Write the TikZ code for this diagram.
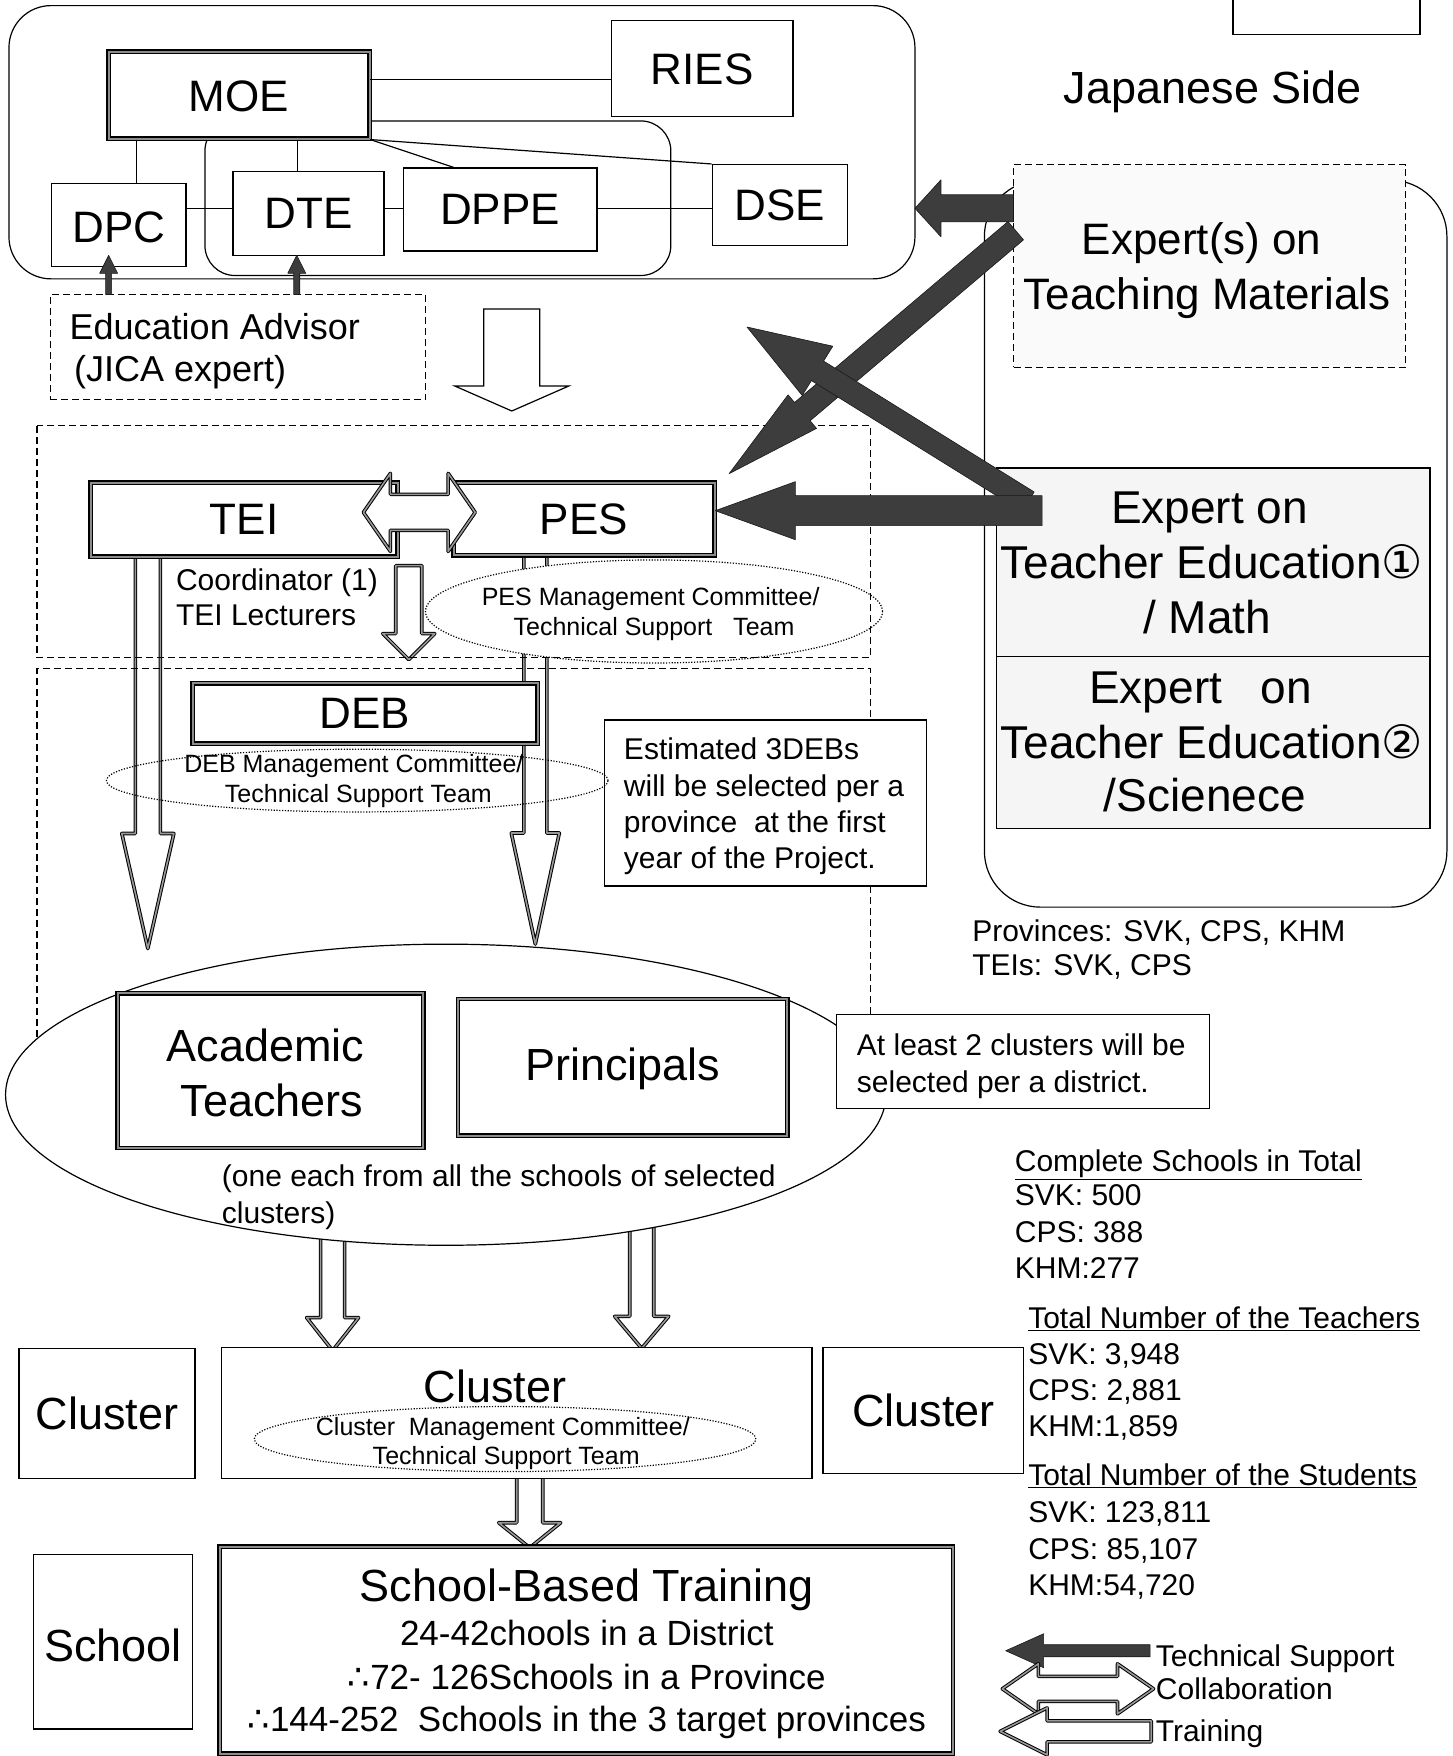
\documentclass[tikz,border=0pt]{standalone}
\usepackage{fontspec}
\setmainfont{Liberation Sans}
\newfontfamily\dvfont{DejaVu Sans}
\usetikzlibrary{calc,fit,shapes.geometric}

% block arrow: style, tail, tip, shaft half width, head length, head half width
\newcommand\blkarrow[6]{%
  \coordinate (bab) at ($(#3)!#5!(#2)$);
  \path[#1] ($(#2)!#4!90:(#3)$) -- ($(bab)!#4!90:(#3)$) -- ($(bab)!#6!90:(#3)$) -- (#3)
     -- ($(bab)!#6!-90:(#3)$) -- ($(bab)!#4!-90:(#3)$) -- ($(#2)!#4!-90:(#3)$) -- cycle;
}
% double headed block arrow
\newcommand\dblkarrow[6]{%
  \coordinate (dbA) at ($(#2)!#5!(#3)$);
  \coordinate (dbB) at ($(#3)!#5!(#2)$);
  \path[#1] (#2) -- ($(dbA)!#6!90:(#3)$) -- ($(dbA)!#4!90:(#3)$) -- ($(dbB)!#4!-90:(#2)$)
     -- ($(dbB)!#6!-90:(#2)$) -- (#3) -- ($(dbB)!#6!90:(#2)$) -- ($(dbB)!#4!90:(#2)$)
     -- ($(dbA)!#4!-90:(#3)$) -- ($(dbA)!#6!-90:(#3)$) -- cycle;
}

\tikzset{
  fsz/.style={font=\fontsize{#1}{#1}\selectfont},
  cont/.style={draw=black, line width=1.2pt},
  box/.style={draw=black, line width=1.3pt, fill=white, inner sep=0pt},
  thickbox/.style={draw=black, line width=1.4pt, double=black!45, double distance=2pt, fill=white, inner sep=0pt},
  dashbox/.style={draw=black, line width=1.2pt, dash pattern=on 7pt off 4pt, inner sep=0pt},
  dashline/.style={draw=black, line width=1.2pt, dash pattern=on 7pt off 4pt},
  hollow/.style={draw=black, line width=1pt, double=black!40, double distance=1.6pt, fill=white, line join=round},
  thinhollow/.style={draw=black, line width=1.2pt, fill=white},
  dark/.style={fill=black!76, draw=black!90, line width=0.6pt, line join=round},
  dotell/.style={ellipse, draw=black, line width=1.2pt, dash pattern=on 1.2pt off 1.6pt, inner sep=0pt},
  conn/.style={draw=black, line width=1.2pt},
  lbl/.style={inner sep=0pt, anchor=mid west},
  clbl/.style={inner sep=0pt, anchor=mid},
  boxtxt/.style={inner sep=0pt, anchor=center},
}

\begin{document}
\begin{tikzpicture}[x=1.1195pt,y=-1.1195pt]
\useasboundingbox (0,0) rectangle (1297,1568);
\fill[white] (0,0) rectangle (1297,1568);

% ---------- containers ----------
\draw[cont, rounded corners=42pt] (8,5) rectangle (817,249);
\draw[cont, rounded corners=30pt] (183,108) rectangle (599,246);
\draw[cont, rounded corners=56pt] (879,161) rectangle (1292,810);
\draw[cont] (1101,-10) -- (1101,31) -- (1268,31) -- (1268,-10);

\node[dashbox, fill=black!2, fit={(905,147) (1255,328)}] (exm) {};
\node[box, fill=black!4, fit={(890,418) (1277,586)}] (ex1) {};
\node[box, fill=black!4, fit={(890,586) (1277,740)}] (ex2) {};

% ---------- hollow arrows (training) ----------
\coordinate (dA1) at (457,276); \coordinate (dA2) at (457,367);
\blkarrow{thinhollow}{dA1}{dA2}{28pt}{25pt}{57pt}
\coordinate (tr1a) at (365,505); \coordinate (tr1b) at (365,589);
\blkarrow{hollow}{tr1a}{tr1b}{13pt}{26pt}{26pt}
\coordinate (la1) at (132,490); \coordinate (la2) at (132,847);
\blkarrow{hollow}{la1}{la2}{12.5pt}{115pt}{26pt}
\coordinate (ra1) at (478,490); \coordinate (ra2) at (478,843);
\blkarrow{hollow}{ra1}{ra2}{11.5pt}{111pt}{24pt}
\coordinate (ec1) at (297,1100); \coordinate (ec2) at (297,1206);
\blkarrow{hollow}{ec1}{ec2}{12pt}{33pt}{26pt}
\coordinate (ed1) at (573,1095); \coordinate (ed2) at (573,1204);
\blkarrow{hollow}{ed1}{ed2}{12pt}{32pt}{27pt}
\coordinate (cs1) at (473,1310); \coordinate (cs2) at (473,1382);
\blkarrow{hollow}{cs1}{cs2}{13pt}{25pt}{31pt}

% ---------- PES ellipse ----------
\node[dotell, fill=white, minimum width=456.8pt, minimum height=103pt] (pesell) at (584,546) {};

% ---------- dashed regions ----------
\draw[dashline] (33,380) rectangle (777,587);
\draw[dashline] (33,926) -- (33,597) -- (777,597) -- (777,906);

% ---------- big ellipse ----------
\node[ellipse, draw=black, line width=1.2pt, fill=white, inner sep=0pt, minimum width=880pt, minimum height=301pt] (bigell) at (398,977.5) {};

% ---------- boxes ----------
\node[thickbox, fit={(97,46) (330,124)}] (moe) {};
\node[box, fit={(546,18) (708,104)}] (ries) {};
\node[box, fit={(46,164) (166,238)}] (dpc) {};
\node[box, fit={(208,153) (343,228)}] (dte) {};
\node[box, fit={(360,150) (533,224)}] (dppe) {};
\node[box, fit={(636,147) (757,219)}] (dse) {};
\node[dashbox, fit={(45,263) (380,357)}] (adv) {};

\node[thickbox, fit={(81,431) (355,497)}] (tei) {};
\node[thickbox, fit={(405,431) (638,496)}] (pes) {};
\node[thickbox, fit={(172,610) (480,664)}] (deb) {};
\node[box, fit={(540,643) (827,791)}] (est) {};

\node[thickbox, fit={(105,887) (378,1025)}] (acad) {};
\node[thickbox, fit={(409,892) (703,1014)}] (prin) {};
\node[box, fit={(747,906) (1080,990)}] (atl) {};

\node[box, fit={(17,1204) (174,1320)}] (cl1) {};
\node[box, fit={(198,1203) (725,1320)}] (cl2) {};
\node[box, fit={(735,1203) (914,1316)}] (cl3) {};
\node[box, fit={(30,1388) (172,1544)}] (sch) {};
\node[thickbox, fit={(196,1381) (851,1566)}] (sbt) {};

\node[dotell, minimum width=501.5pt, minimum height=62.7pt] (debell) at (319,697) {};
\node[dotell, minimum width=501.5pt, minimum height=65pt] (clell) at (451,1285) {};

% ---------- box labels ----------
\node[boxtxt, fsz=44] (moet) at ([yshift=-1pt]moe.center) {MOE};
\node[boxtxt, fsz=44] (riest) at ([yshift=-1pt]ries.center) {RIES};
\node[boxtxt, fsz=44] (dpct) at ([yshift=-2pt]dpc.center) {DPC};
\node[boxtxt, fsz=44] (dtet) at (dte.center) {DTE};
\node[boxtxt, fsz=44] (dppet) at (dppe.center) {DPPE};
\node[boxtxt, fsz=44] (dset) at (dse.center) {DSE};
\node[boxtxt, fsz=44] (teit) at (tei.center) {TEI};
\node[boxtxt, fsz=44] (pest) at (pes.center) {PES};
\node[boxtxt, fsz=44] (debt) at (deb.center) {DEB};
\node[boxtxt, fsz=45] (print) at ([yshift=-2pt]prin.center) {Principals};
\node[boxtxt, fsz=45] (cl1t) at (cl1.center) {Cluster};
\node[boxtxt, fsz=45] (cl3t) at (cl3.center) {Cluster};
\node[boxtxt, fsz=45] (scht) at ([yshift=-4pt]sch.center) {School};

% ---------- connectors in the ministry ----------
\draw[conn] (moe.east |- 0,71) -- (ries.west |- 0,71);
\draw[conn] (122,0 |- moe.south) -- (122,0 |- dpc.north);
\draw[conn] (266,0 |- moe.south) -- (266,0 |- dte.north);
\draw[conn] (moe.south east) -- (405,0 |- dppe.north);
\draw[conn] (moe.south east) -- (dse.north west);
\draw[conn] (dpc.east |- 0,186) -- (dte.west |- 0,186);
\draw[conn] (dte.east |- 0,186) -- (dppe.west |- 0,186);
\draw[conn] (dppe.east |- 0,186) -- (dse.west |- 0,186);

% ---------- collaboration arrow ----------
\coordinate (co1) at (324.5,457.5); \coordinate (co2) at (424.3,457.5);
\dblkarrow{hollow}{co1}{co2}{18pt}{27pt}{39pt}

% ---------- technical support arrows ----------
\coordinate (ta1) at (905,186); \coordinate (ta2) at (817,186);
\blkarrow{dark}{ta1}{ta2}{13.5pt}{26pt}{28.5pt}
\coordinate (tb1) at (907,206); \coordinate (tb2) at (651,423);
\blkarrow{dark}{tb1}{tb2}{12pt}{96pt}{22pt}
\coordinate (tc1) at (918,448); \coordinate (tc2) at (667,292);
\blkarrow{dark}{tc1}{tc2}{11.5pt}{83pt}{29pt}
\coordinate (td1) at (930.5,456); \coordinate (td2) at (638.7,456);
\blkarrow{dark}{td1}{td2}{15pt}{80pt}{29pt}
\coordinate (sa1) at (97,263); \coordinate (sa2) at (97,228);
\blkarrow{dark}{sa1}{sa2}{3pt}{18pt}{9pt}
\coordinate (sb1) at (265,263); \coordinate (sb2) at (265,228);
\blkarrow{dark}{sb1}{sb2}{3pt}{18pt}{9pt}

% ---------- texts ----------
\node[clbl, fsz=45] (jside) at (1083,90) {Japanese Side};
\node[lbl, fsz=36] (adv1) at (62,301) {Education Advisor};
\node[lbl, fsz=36] (adv2) at (66,338) {(JICA expert)};

\node[lbl, fsz=30] (coord) at (157,524.5) {Coordinator (1)};
\node[lbl, fsz=30] (teil) at (157,556.5) {TEI Lecturers};
\node[clbl, fsz=25] (pesm1) at (581,538.5) {PES Management Committee/};
\node[clbl, fsz=25] (pesm2) at (584,565.5) {Technical Support\ \ \ Team};
\node[clbl, fsz=25] (debm1) at (316,687.5) {DEB Management Committee/};
\node[clbl, fsz=25] (debm2) at (320,714.5) {Technical Support Team};

\node[lbl, fsz=30] (est1) at (557,676) {Estimated 3DEBs};
\node[lbl, fsz=30] (est2) at (557,709) {will be selected per a};
\node[lbl, fsz=30] (est3) at (557,741) {province\ \ at the first};
\node[lbl, fsz=30] (est4) at (557,773) {year of the Project.};

\node[clbl, fsz=44] (exm1) at (1073,224.5) {Expert(s) on};
\node[clbl, fsz=44] (exm2) at (1078,274) {Teaching Materials};
\node[clbl, fsz=46] (ex11) at (1080,465.5) {Expert on};
\node[clbl, fsz=46] (ex12) at (1082,514) {Teacher Education{\dvfont ①}};
\node[clbl, fsz=46] (ex13) at (1078,563) {/ Math};
\node[clbl, fsz=46] (ex21) at (1072,625.5) {Expert\ \ \ on};
\node[clbl, fsz=46] (ex22) at (1082,675) {Teacher Education{\dvfont ②}};
\node[clbl, fsz=46] (ex23) at (1076,722) {/Scienece};

\node[lbl, fsz=30] (prov) at (868,838) {Provinces: SVK, CPS, KHM};
\node[lbl, fsz=30] (teis) at (868,869) {TEIs: SVK, CPS};

\node[clbl, fsz=45] (acad1) at (237,945.5) {Academic};
\node[clbl, fsz=45] (acad2) at (243,994.5) {Teachers};
\node[lbl, fsz=30] (one1) at (198,1057) {(one each from all the schools of selected};
\node[lbl, fsz=30] (one2) at (198,1090) {clusters)};
\node[lbl, fsz=30] (atl1) at (765,940) {At least 2 clusters will be};
\node[lbl, fsz=30] (atl2) at (765,973) {selected per a district.};

\node[lbl, fsz=30] (s1) at (906,1043.5) {\underline{Complete Schools in Total}};
\node[lbl, fsz=30] (s2) at (906,1074.5) {SVK: 500};
\node[lbl, fsz=30] (s3) at (906,1107.5) {CPS: 388};
\node[lbl, fsz=30] (s4) at (906,1139.5) {KHM:277};
\node[lbl, fsz=30] (s5) at (918,1184) {\underline{Total Number of the Teachers}};
\node[lbl, fsz=30] (s6) at (918,1216) {SVK: 3,948};
\node[lbl, fsz=30] (s7) at (918,1248) {CPS: 2,881};
\node[lbl, fsz=30] (s8) at (918,1280) {KHM:1,859};
\node[lbl, fsz=30] (s9) at (918,1324) {\underline{Total Number of the Students}};
\node[lbl, fsz=30] (s10) at (918,1357) {SVK: 123,811};
\node[lbl, fsz=30] (s11) at (918,1390) {CPS: 85,107};
\node[lbl, fsz=30] (s12) at (918,1422) {KHM:54,720};

\node[boxtxt, fsz=45] (clt) at (442,1238) {Cluster};
\node[clbl, fsz=25] (clm1) at (449,1279) {Cluster\ \ Management Committee/};
\node[clbl, fsz=25] (clm2) at (452,1305.5) {Technical Support Team};

\node[clbl, fsz=45] (sbt1) at (524,1427.5) {School-Based Training};
\node[clbl, fsz=35] (sbt2) at (524,1467) {24-42chools in a District};
\node[clbl, fsz=35] (sbt3) at (524,1506) {{\dvfont ∴}72- 126Schools in a Province};
\node[clbl, fsz=35] (sbt4) at (524,1544) {{\dvfont ∴}144-252\ \ Schools in the 3 target provinces};

% ---------- legend ----------
\coordinate (lg1a) at (1027,1474); \coordinate (lg1b) at (898,1474);
\blkarrow{dark}{lg1a}{lg1b}{6pt}{38pt}{17pt}
\coordinate (lg2a) at (895,1508); \coordinate (lg2b) at (1030,1508);
\dblkarrow{hollow}{lg2a}{lg2b}{12.5pt}{36pt}{25pt}
\coordinate (lg3a) at (1028,1546); \coordinate (lg3b) at (893,1546);
\blkarrow{hollow}{lg3a}{lg3b}{10.5pt}{47pt}{23.5pt}
\node[lbl, fsz=30] (lgt1) at (1032,1486) {Technical Support};
\node[lbl, fsz=30] (lgt2) at (1032,1515) {Collaboration};
\node[lbl, fsz=30] (lgt3) at (1032,1553) {Training};
\end{tikzpicture}
\end{document}
